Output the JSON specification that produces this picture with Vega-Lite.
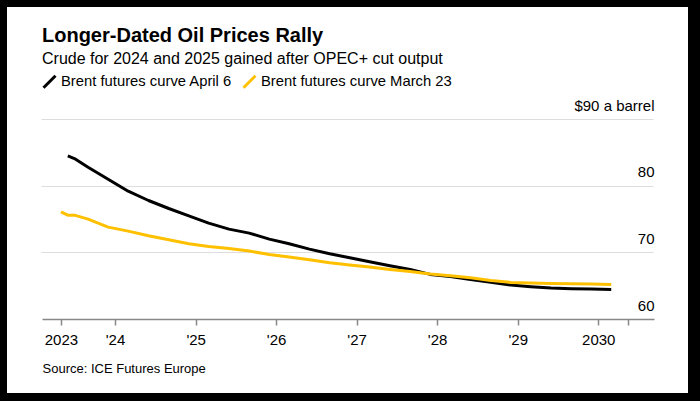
{
  "$schema": "https://vega.github.io/schema/vega-lite/v6.json",
  "width": 681,
  "height": 386,
  "autosize": {"type": "none"},
  "padding": {"left": 7, "top": 7, "right": 12, "bottom": 8},
  "background": "#000000",
  "title": {
    "text": "Longer-Dated Oil Prices Rally",
    "subtitle": "Crude for 2024 and 2025 gained after OPEC+ cut output",
    "anchor": "start",
    "frame": "group",
    "orient": "top",
    "offset": -60,
    "dx": 35,
    "font": "Liberation Sans",
    "fontSize": 20,
    "fontWeight": "bold",
    "color": "#000000",
    "subtitleFont": "Liberation Sans",
    "subtitleFontSize": 16,
    "subtitleColor": "#000000",
    "subtitlePadding": 5
  },
  "config": {
    "view": {"fill": "#ffffff", "stroke": null},
    "font": "Liberation Sans"
  },
  "data": {
    "values": [
      {"curve": "Brent futures curve April 6", "date": "2023/06/01", "price": 84.5},
      {"curve": "Brent futures curve April 6", "date": "2023/07/01", "price": 84.1},
      {"curve": "Brent futures curve April 6", "date": "2023/09/01", "price": 82.8},
      {"curve": "Brent futures curve April 6", "date": "2023/12/01", "price": 81.0},
      {"curve": "Brent futures curve April 6", "date": "2024/03/01", "price": 79.2},
      {"curve": "Brent futures curve April 6", "date": "2024/06/01", "price": 77.8},
      {"curve": "Brent futures curve April 6", "date": "2024/09/01", "price": 76.6},
      {"curve": "Brent futures curve April 6", "date": "2024/12/01", "price": 75.5},
      {"curve": "Brent futures curve April 6", "date": "2025/03/01", "price": 74.4},
      {"curve": "Brent futures curve April 6", "date": "2025/06/01", "price": 73.5},
      {"curve": "Brent futures curve April 6", "date": "2025/09/01", "price": 72.9},
      {"curve": "Brent futures curve April 6", "date": "2025/12/01", "price": 72.0},
      {"curve": "Brent futures curve April 6", "date": "2026/03/01", "price": 71.3},
      {"curve": "Brent futures curve April 6", "date": "2026/06/01", "price": 70.5},
      {"curve": "Brent futures curve April 6", "date": "2026/09/01", "price": 69.8},
      {"curve": "Brent futures curve April 6", "date": "2026/12/01", "price": 69.2},
      {"curve": "Brent futures curve April 6", "date": "2027/03/01", "price": 68.6},
      {"curve": "Brent futures curve April 6", "date": "2027/06/01", "price": 68.0},
      {"curve": "Brent futures curve April 6", "date": "2027/09/01", "price": 67.45},
      {"curve": "Brent futures curve April 6", "date": "2027/12/01", "price": 66.7},
      {"curve": "Brent futures curve April 6", "date": "2028/03/01", "price": 66.4},
      {"curve": "Brent futures curve April 6", "date": "2028/06/01", "price": 65.95},
      {"curve": "Brent futures curve April 6", "date": "2028/09/01", "price": 65.5},
      {"curve": "Brent futures curve April 6", "date": "2028/12/01", "price": 65.1},
      {"curve": "Brent futures curve April 6", "date": "2029/03/01", "price": 64.85},
      {"curve": "Brent futures curve April 6", "date": "2029/06/01", "price": 64.65},
      {"curve": "Brent futures curve April 6", "date": "2029/09/01", "price": 64.55},
      {"curve": "Brent futures curve April 6", "date": "2029/12/01", "price": 64.5},
      {"curve": "Brent futures curve April 6", "date": "2030/03/01", "price": 64.45},
      {"curve": "Brent futures curve March 23", "date": "2023/05/01", "price": 76.1},
      {"curve": "Brent futures curve March 23", "date": "2023/06/01", "price": 75.6},
      {"curve": "Brent futures curve March 23", "date": "2023/07/01", "price": 75.6},
      {"curve": "Brent futures curve March 23", "date": "2023/09/01", "price": 75.0},
      {"curve": "Brent futures curve March 23", "date": "2023/12/01", "price": 73.8},
      {"curve": "Brent futures curve March 23", "date": "2024/03/01", "price": 73.2},
      {"curve": "Brent futures curve March 23", "date": "2024/06/01", "price": 72.5},
      {"curve": "Brent futures curve March 23", "date": "2024/09/01", "price": 71.9},
      {"curve": "Brent futures curve March 23", "date": "2024/12/01", "price": 71.3},
      {"curve": "Brent futures curve March 23", "date": "2025/03/01", "price": 70.9},
      {"curve": "Brent futures curve March 23", "date": "2025/06/01", "price": 70.6},
      {"curve": "Brent futures curve March 23", "date": "2025/09/01", "price": 70.2},
      {"curve": "Brent futures curve March 23", "date": "2025/12/01", "price": 69.7},
      {"curve": "Brent futures curve March 23", "date": "2026/03/01", "price": 69.3},
      {"curve": "Brent futures curve March 23", "date": "2026/06/01", "price": 68.9},
      {"curve": "Brent futures curve March 23", "date": "2026/09/01", "price": 68.45},
      {"curve": "Brent futures curve March 23", "date": "2026/12/01", "price": 68.1},
      {"curve": "Brent futures curve March 23", "date": "2027/03/01", "price": 67.8},
      {"curve": "Brent futures curve March 23", "date": "2027/06/01", "price": 67.45},
      {"curve": "Brent futures curve March 23", "date": "2027/09/01", "price": 67.15},
      {"curve": "Brent futures curve March 23", "date": "2027/12/01", "price": 66.75},
      {"curve": "Brent futures curve March 23", "date": "2028/03/01", "price": 66.5},
      {"curve": "Brent futures curve March 23", "date": "2028/06/01", "price": 66.2},
      {"curve": "Brent futures curve March 23", "date": "2028/09/01", "price": 65.8},
      {"curve": "Brent futures curve March 23", "date": "2028/12/01", "price": 65.5},
      {"curve": "Brent futures curve March 23", "date": "2029/03/01", "price": 65.4},
      {"curve": "Brent futures curve March 23", "date": "2029/06/01", "price": 65.35},
      {"curve": "Brent futures curve March 23", "date": "2029/09/01", "price": 65.3},
      {"curve": "Brent futures curve March 23", "date": "2029/12/01", "price": 65.25},
      {"curve": "Brent futures curve March 23", "date": "2030/03/01", "price": 65.2}
    ]
  },
  "mark": {"type": "line", "strokeWidth": 3, "strokeJoin": "round"},
  "encoding": {
    "x": {
      "field": "date",
      "type": "temporal",
      "scale": {
        "domain": [{"year": 2023, "month": 2, "date": 4}, {"year": 2030, "month": 9, "date": 11}],
        "range": [35, 647]
      },
      "axis": {
        "title": "Source: ICE Futures Europe",
        "titleX": 35,
        "titleY": 53,
        "titleAlign": "left",
        "titleBaseline": "alphabetic",
        "titleAnchor": null,
        "titleFont": "Liberation Sans",
        "titleFontSize": 13,
        "titleFontWeight": "normal",
        "titleColor": "#000000",
        "offset": -74,
        "grid": false,
        "domainColor": "#888888",
        "domainWidth": 1.5,
        "tickColor": "#888888",
        "tickWidth": 1.5,
        "tickSize": 6,
        "labelPadding": 7,
        "labelFontSize": 15,
        "labelColor": "#000000",
        "labelFlush": false,
        "labelOverlap": false,
        "values": [
          {"year": 2023, "month": 5, "date": 1},
          {"year": 2024, "month": 1, "date": 1},
          {"year": 2025, "month": 1, "date": 1},
          {"year": 2026, "month": 1, "date": 1},
          {"year": 2027, "month": 1, "date": 1},
          {"year": 2028, "month": 1, "date": 1},
          {"year": 2029, "month": 1, "date": 1},
          {"year": 2030, "month": 1, "date": 1},
          {"year": 2030, "month": 5, "date": 18}
        ],
        "labelExpr": "year(datum.value) == 2030 && month(datum.value) > 0 ? '' : (year(datum.value) == 2023 || year(datum.value) == 2030 ? timeFormat(datum.value, '%Y') : \"'\" + timeFormat(datum.value, '%y'))"
      }
    },
    "y": {
      "field": "price",
      "type": "quantitative",
      "scale": {"domain": [60, 90], "range": [312, 112.3], "nice": false, "zero": false},
      "axis": {
        "title": null,
        "orient": "right",
        "offset": -34,
        "values": [60, 70, 80, 90],
        "domain": false,
        "ticks": false,
        "labelPadding": 0,
        "labelAlign": "right",
        "labelBaseline": "alphabetic",
        "labelOffset": -9,
        "labelFontSize": 15,
        "labelColor": "#000000",
        "grid": true,
        "gridColor": "#dddddd",
        "gridWidth": 1,
        "gridOpacity": {"condition": {"test": "datum.value === 60", "value": 0}, "value": 1},
        "labelExpr": "datum.value == 90 ? '$90 a barrel' : datum.label"
      }
    },
    "color": {
      "field": "curve",
      "type": "nominal",
      "scale": {
        "domain": ["Brent futures curve April 6", "Brent futures curve March 23"],
        "range": ["#000000", "#FFC000"]
      },
      "legend": {
        "title": null,
        "orient": "none",
        "legendX": 35,
        "legendY": 67,
        "direction": "horizontal",
        "padding": 0,
        "symbolType": "M-1,1L1,-1",
        "symbolSize": 144,
        "symbolStrokeWidth": 3,
        "labelFontSize": 14.8,
        "labelColor": "#000000",
        "labelLimit": 400,
        "labelOffset": 4,
        "columnPadding": 4
      }
    }
  }
}
